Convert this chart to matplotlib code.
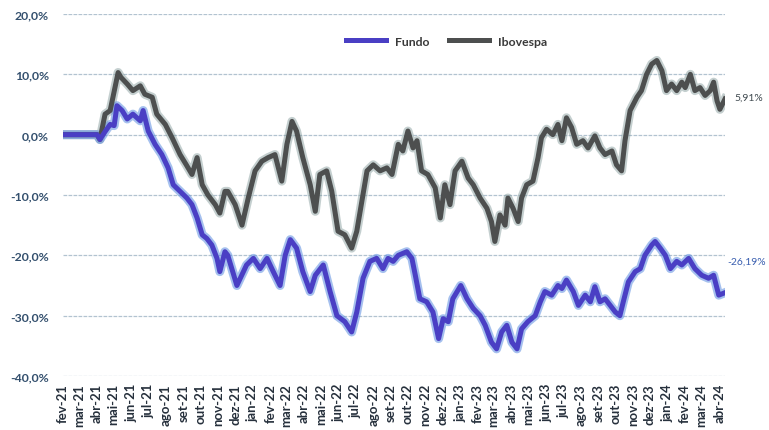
import matplotlib
matplotlib.use("Agg")
import matplotlib.pyplot as plt
import matplotlib.ticker as mticker
import pandas as pd

# ---------------- data ----------------
ibov_dates = [
    "2021-02-01", "2021-03-03", "2021-04-02", "2021-04-07", "2021-04-16", "2021-04-25",
    "2021-05-09", "2021-05-14", "2021-05-25", "2021-06-04", "2021-06-17", "2021-06-25",
    "2021-07-08", "2021-07-16", "2021-07-31", "2021-08-12", "2021-08-26", "2021-09-06",
    "2021-09-16", "2021-09-25", "2021-10-04", "2021-10-14", "2021-10-27", "2021-11-04",
    "2021-11-13", "2021-11-18", "2021-12-01", "2021-12-13", "2021-12-24", "2022-01-05",
    "2022-01-17", "2022-01-28", "2022-02-09", "2022-02-21", "2022-03-02", "2022-03-11",
    "2022-03-19", "2022-03-30", "2022-04-12", "2022-04-21", "2022-04-29", "2022-05-11",
    "2022-05-20", "2022-05-31", "2022-06-12", "2022-06-24", "2022-07-03", "2022-07-12",
    "2022-07-21", "2022-08-01", "2022-08-13", "2022-08-25", "2022-09-03", "2022-09-14",
    "2022-09-22", "2022-10-01", "2022-10-10", "2022-10-17", "2022-10-25", "2022-11-05",
    "2022-11-18", "2022-11-27", "2022-12-05", "2022-12-14", "2022-12-23", "2023-01-04",
    "2023-01-15", "2023-01-24", "2023-02-05", "2023-02-17", "2023-02-25", "2023-03-03",
    "2023-03-12", "2023-03-21", "2023-03-26", "2023-04-04", "2023-04-13", "2023-04-19",
    "2023-04-28", "2023-05-09", "2023-05-18", "2023-05-24", "2023-06-02", "2023-06-13",
    "2023-06-22", "2023-06-29", "2023-07-07", "2023-07-16", "2023-07-25", "2023-08-05",
    "2023-08-14", "2023-08-26", "2023-09-04", "2023-09-13", "2023-09-25", "2023-10-03",
    "2023-10-12", "2023-10-18", "2023-10-27", "2023-11-08", "2023-11-16", "2023-11-25",
    "2023-12-04", "2023-12-13", "2023-12-22", "2023-12-30", "2024-01-08", "2024-01-17",
    "2024-01-26", "2024-02-01", "2024-02-10", "2024-02-18", "2024-02-27", "2024-03-07",
    "2024-03-16", "2024-03-22", "2024-03-28", "2024-04-02", "2024-04-11",
]
ibov_values = [
    0.0, 0.0, 0.0, -0.8, 3.4, 4.0,
    10.3, 9.5, 8.4, 7.3, 8.1, 6.7,
    6.2, 3.4, 1.7, -0.5, -3.3, -5.0,
    -6.6, -3.8, -8.3, -10.0, -11.6, -13.0,
    -9.4, -9.4, -11.6, -15.0, -10.5, -6.0,
    -4.4, -3.8, -3.3, -7.7, -1.6, 2.2,
    0.6, -3.8, -8.3, -12.7, -6.6, -6.0,
    -9.4, -16.0, -16.6, -18.8, -16.0, -11.0,
    -6.0, -5.0, -6.0, -5.5, -6.6, -1.6,
    -2.7, 0.6, -2.2, -1.0, -6.0, -6.6,
    -8.8, -13.8, -8.3, -11.6, -6.0, -4.4,
    -7.2, -8.3, -10.5, -12.2, -14.4, -17.7,
    -13.3, -15.0, -10.5, -12.2, -14.4, -10.5,
    -8.3, -7.7, -3.8, -0.5, 0.9, 0.0,
    1.7, -1.0, 2.8, 1.2, -1.6, -1.0,
    -2.2, -0.2, -2.2, -3.3, -2.7, -5.0,
    -6.0, -1.0, 4.0, 6.2, 7.3, 10.0,
    11.7, 12.3, 10.6, 7.3, 8.4, 7.3,
    8.7, 7.8, 10.0, 7.3, 7.8, 6.5,
    7.3, 8.7, 5.6, 4.2, 5.91,
]

fundo_dates = [
    "2021-02-01", "2021-04-02", "2021-04-07", "2021-04-16", "2021-04-25", "2021-05-02",
    "2021-05-07", "2021-05-16", "2021-05-25", "2021-06-04", "2021-06-17", "2021-06-22",
    "2021-07-01", "2021-07-13", "2021-07-25", "2021-08-05", "2021-08-14", "2021-08-26",
    "2021-09-07", "2021-09-16", "2021-09-25", "2021-10-04", "2021-10-12", "2021-10-21",
    "2021-10-30", "2021-11-04", "2021-11-13", "2021-11-18", "2021-12-04", "2021-12-21",
    "2022-01-02", "2022-01-14", "2022-01-26", "2022-02-06", "2022-02-18", "2022-02-27",
    "2022-03-08", "2022-03-19", "2022-03-30", "2022-04-12", "2022-04-21", "2022-05-05",
    "2022-05-17", "2022-05-29", "2022-06-12", "2022-06-24", "2022-07-03", "2022-07-14",
    "2022-07-26", "2022-08-07", "2022-08-18", "2022-08-27", "2022-09-05", "2022-09-14",
    "2022-09-29", "2022-10-08", "2022-10-14", "2022-10-22", "2022-11-03", "2022-11-14",
    "2022-11-24", "2022-12-02", "2022-12-11", "2022-12-19", "2023-01-02", "2023-01-13",
    "2023-01-24", "2023-02-05", "2023-02-14", "2023-02-25", "2023-03-06", "2023-03-15",
    "2023-03-24", "2023-04-02", "2023-04-11", "2023-04-19", "2023-04-30", "2023-05-13",
    "2023-05-22", "2023-05-30", "2023-06-11", "2023-06-22", "2023-06-29", "2023-07-07",
    "2023-07-19", "2023-07-28", "2023-08-09", "2023-08-18", "2023-08-26", "2023-09-04",
    "2023-09-13", "2023-09-22", "2023-10-01", "2023-10-09", "2023-10-15", "2023-10-24",
    "2023-11-05", "2023-11-14", "2023-11-22", "2023-12-04", "2023-12-10", "2023-12-19",
    "2023-12-28", "2024-01-06", "2024-01-17", "2024-01-26", "2024-02-07", "2024-02-18",
    "2024-03-01", "2024-03-13", "2024-03-22", "2024-03-31", "2024-04-11",
]
fundo_values = [
    0.0, 0.0, -0.8, 0.5, 1.7, 1.5,
    4.8, 4.0, 2.6, 3.4, 2.3, 4.0,
    0.6, -1.6, -3.3, -5.5, -8.3, -9.4,
    -10.5, -11.6, -13.8, -16.6, -17.2, -18.3,
    -20.5, -22.7, -19.4, -20.0, -25.0, -21.6,
    -20.5, -22.2, -20.5, -22.7, -25.0, -20.0,
    -17.4, -18.8, -22.7, -26.0, -23.3, -21.6,
    -26.0, -30.0, -31.0, -32.7, -29.4, -23.8,
    -21.0, -20.5, -22.2, -20.5, -21.0, -20.0,
    -19.4, -20.5, -23.3, -27.2, -27.7, -29.4,
    -33.8, -30.5, -31.0, -27.2, -25.0, -27.2,
    -28.8, -30.0, -31.6, -34.4, -35.5, -32.7,
    -31.6, -34.4, -35.5, -32.2, -31.0, -30.0,
    -27.7, -26.0, -26.6, -25.0, -25.5, -24.1,
    -26.0, -28.3, -26.6, -27.7, -25.2, -27.7,
    -27.2, -28.3, -29.4, -30.0, -27.7, -24.4,
    -22.7, -22.2, -20.0, -18.3, -17.7, -18.8,
    -20.0, -22.2, -21.0, -21.6, -20.5, -22.2,
    -23.3, -23.8, -23.3, -26.6, -26.19,
]

series_names = ["Fundo", "Ibovespa"]
month_abbr = ["jan", "fev", "mar", "abr", "mai", "jun", "jul", "ago", "set", "out", "nov", "dez"]
y_ticks = [-40, -30, -20, -10, 0, 10, 20]
x_start, x_end = "2021-02-01", "2024-04-11"
tick_months = pd.date_range("2021-02-01", "2024-04-01", freq="MS")

# ---------------- plot ----------------
plt.rcParams["font.family"] = ["Lato", "DejaVu Sans"]

fig = plt.figure(figsize=(7.69, 4.31), dpi=100)
ax = fig.add_axes([63 / 769, 1 - 377 / 431, (725 - 63) / 769, (377 - 15) / 431])

fd = pd.to_datetime(fundo_dates)
idt = pd.to_datetime(ibov_dates)

blue = "#4a3fc4"
gray = "#4d4f4f"

# soft halo like the scanned image
ax.plot(idt, ibov_values, color="#7d9595", lw=6.5, alpha=0.45, solid_joinstyle="round", zorder=2)
ax.plot(fd, fundo_values, color="#5b8de0", lw=6.5, alpha=0.55, solid_joinstyle="round", zorder=2)
l_ib, = ax.plot(idt, ibov_values, color=gray, lw=3.6, solid_joinstyle="round", zorder=3)
l_fu, = ax.plot(fd, fundo_values, color=blue, lw=3.6, solid_joinstyle="round", zorder=3)

ax.set_ylim(-40, 20)
ax.set_xlim(pd.Timestamp(x_start), pd.Timestamp(x_end))
ax.set_yticks(y_ticks)
ax.yaxis.set_major_formatter(mticker.FuncFormatter(lambda v, p: f"{v:.1f}%".replace(".", ",")))
ax.set_xticks(tick_months)
ax.set_xticklabels([f"{month_abbr[d.month - 1]}-{d.year % 100:02d}" for d in tick_months],
                   rotation=90, fontsize=9.5, fontweight="bold", color="#26303c")
for t in ax.get_yticklabels():
    t.set_fontsize(8.8)
    t.set_fontweight("bold")
    t.set_color("#34506e")

ax.tick_params(axis="both", length=0)
ax.tick_params(axis="y", pad=10)
ax.tick_params(axis="x", pad=5)
for s in ax.spines.values():
    s.set_visible(False)
ax.grid(axis="y", color="#b2c3d0", lw=0.9, linestyle=(0, (3, 1)))
ax.set_axisbelow(True)

leg = ax.legend([l_fu, l_ib], series_names, loc="center", bbox_to_anchor=(0.58, 0.925),
                ncol=2, frameon=False, handlelength=3.2, columnspacing=1.6,
                prop={"size": 8.8, "weight": "bold"})
for t in leg.get_texts():
    t.set_color("#3a3a3a")

ax.annotate(f"{ibov_values[-1]:.2f}%".replace(".", ","), (idt[-1], ibov_values[-1]),
            xytext=(7, 1), textcoords="offset points", va="center", ha="left",
            fontsize=7.5, color="#404a50", annotation_clip=False)
ax.annotate(f"{fundo_values[-1]:.2f}%".replace(".", ","), (fd[-1], fundo_values[-1]),
            xytext=(2, 23), textcoords="offset points", va="center", ha="left",
            fontsize=7.5, color="#3a5fb0", annotation_clip=False)

fig.savefig("out.png", dpi=100, facecolor="white")
